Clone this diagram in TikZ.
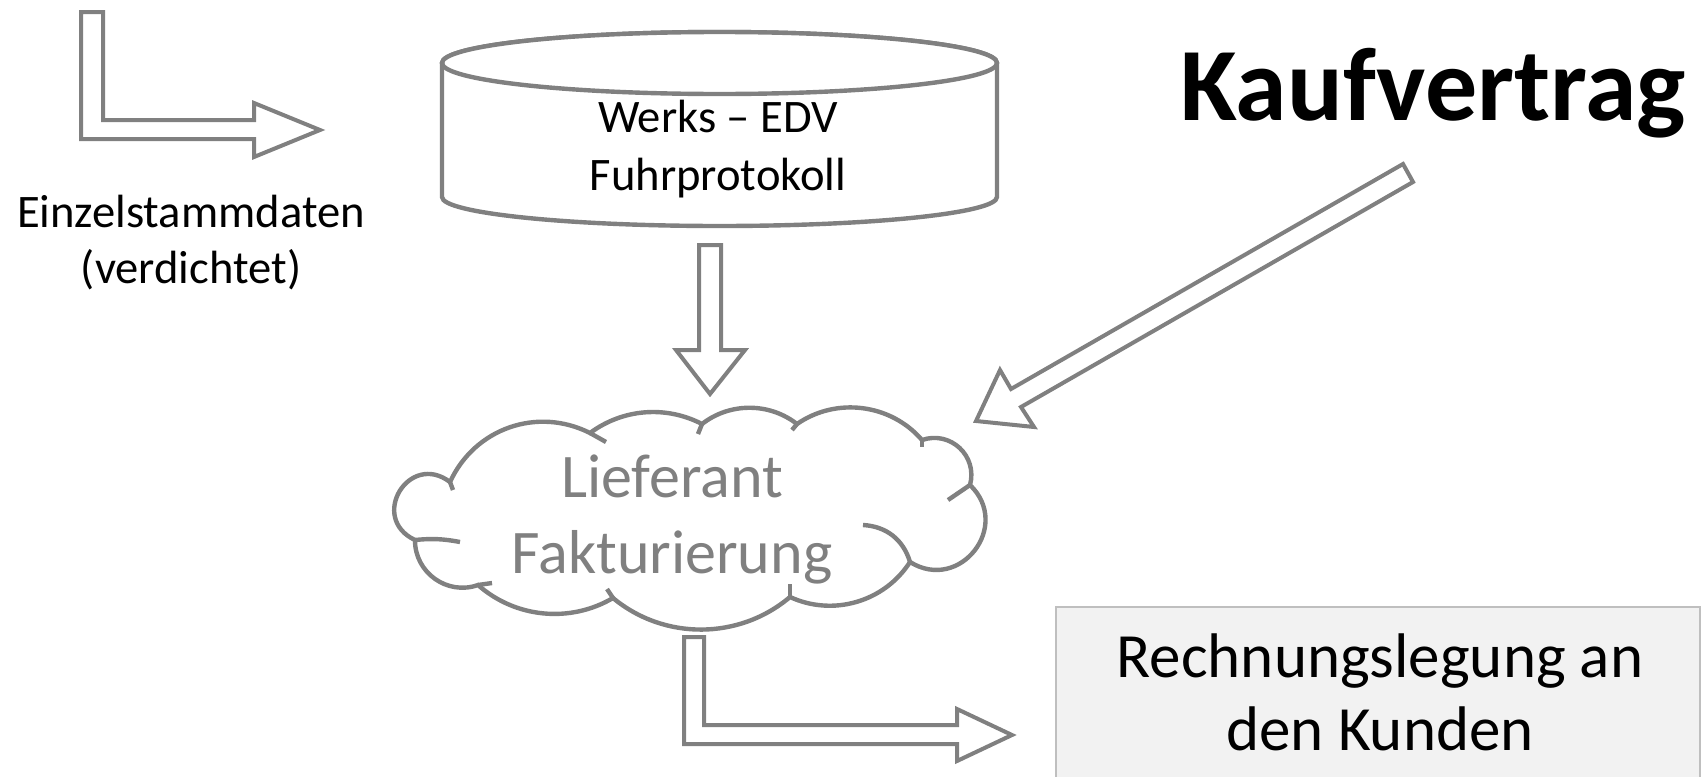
\documentclass[tikz,border=0pt]{standalone}
\usepackage{fontspec}
\setmainfont{Carlito}
\definecolor{lg}{HTML}{808080}
\definecolor{boxfill}{HTML}{F2F2F2}
\definecolor{boxline}{HTML}{BFBFBF}
\newcommand\twolines[2]{\begin{tabular}[t]{@{}c@{}}#1\\#2\end{tabular}}
\tikzset{
  blockarrow/.style={draw=lg, line width=2pt, fill=white, line join=miter},
  cyl/.style={draw=lg, line width=2.2pt, fill=white},
  cloudline/.style={draw=lg, line width=2.2pt, line cap=butt},
  resbox/.style={draw=boxline, line width=1pt, fill=boxfill},
  txt/.style={inner sep=0pt, anchor=base},
  smalltxt/.style={txt, font=\fontsize{23.3pt}{28pt}\selectfont},
}
\begin{document}
\begin{tikzpicture}[x=0.5pt,y=0.5pt]
\useasboundingbox (0,0) rectangle (1706,-776);

% result box
\draw[resbox] (1056,-607) rectangle (1700,-830);

% top-left L arrow
\path[blockarrow] (81,-12) -- (103,-12) -- (103,-120) -- (254,-120) -- (254,-103)
  -- (320,-130) -- (254,-157) -- (254,-139) -- (81,-139) -- cycle;

% cylinder
\path[cyl] (442,-63) -- (442,-197)
  arc[start angle=180, end angle=360, x radius=277.5, y radius=29]
  -- (997,-63)
  arc[start angle=0, end angle=180, x radius=277.5, y radius=31] -- cycle;
\draw[cyl] (719.5,-63) ellipse [x radius=277.5, y radius=31];

% down arrow
\path[blockarrow] (699,-245) -- (721,-245) -- (721,-350) -- (745,-350)
  -- (710,-394) -- (676,-350) -- (699,-350) -- cycle;

% diagonal arrow
\path[blockarrow] (1403,-164) -- (1011,-389) -- (1000,-370) -- (976,-421)
  -- (1034,-427) -- (1021,-407) -- (1413,-182) -- cycle;

% cloud
\path[cloudline, fill=white] (415,-540)
  to[bend left=96, looseness=1.95] (450,-482)
  to[bend left=46, looseness=1.02] (590,-433)
  to[bend left=32, looseness=0.93] (702,-424)
  to[bend left=38, looseness=0.95] (797,-424)
  to[bend left=42, looseness=0.97] (922,-440)
  to[bend left=62, looseness=1.17] (970,-485)
  to[bend left=84, looseness=1.54] (910,-562)
  to[bend left=41, looseness=0.97] (790,-597)
  to[bend left=40, looseness=0.96] (613,-598)
  to[bend left=36, looseness=0.94] (478,-585)
  to[bend left=55, looseness=1.08] (415,-540) -- cycle;
% cloud inner hooks
\draw[cloudline] (450,-482) -- (453,-490);
\draw[cloudline] (590,-433) -- (606,-442);
\draw[cloudline] (702,-424) -- (698,-434);
\draw[cloudline] (797,-424) -- (792,-430);
\draw[cloudline] (922,-440) -- (922,-447);
\draw[cloudline] (970,-485) -- (948,-500);
\draw[cloudline] (910,-562) to[bend right=35] (863,-525);
\draw[cloudline] (790,-597) -- (790,-584);
\draw[cloudline] (613,-598) -- (607,-589);
\draw[cloudline] (478,-585) -- (492,-583);
\draw[cloudline] (415,-540) to[bend left=8] (460,-542);

% bottom L arrow
\path[blockarrow] (684,-637) -- (704,-637) -- (704,-725) -- (957,-725) -- (957,-709)
  -- (1012,-735) -- (957,-761) -- (957,-744) -- (684,-744) -- cycle;

% texts
\node[smalltxt] (einzel) at (191,-227) {\twolines{Einzelstammdaten}{(verdichtet)}};
\node[smalltxt, font=\fontsize{23.3pt}{29pt}\selectfont] (werks) at (718,-132) {\twolines{Werks – EDV}{Fuhrprotokoll}};
\node[txt, font=\bfseries\fontsize{52pt}{62pt}\selectfont] (kauf) at (1433,-120) {Kaufvertrag};
\node[txt, text=lg, font=\fontsize{31pt}{38pt}\selectfont] (lief) at (672,-497) {\twolines{Lieferant}{Fakturierung}};
\node[txt, font=\fontsize{31.5pt}{36.5pt}\selectfont] (rech) at (1380,-677) {\twolines{Rechnungslegung an}{den Kunden}};
\end{tikzpicture}
\end{document}
